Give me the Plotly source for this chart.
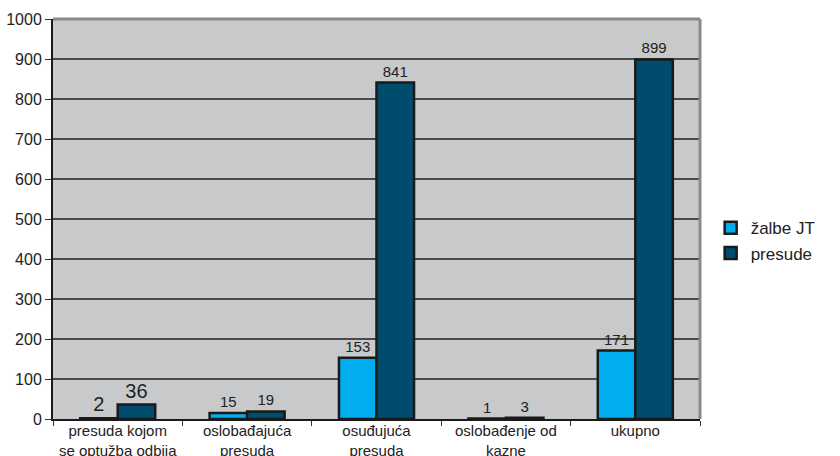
import plotly.graph_objects as go

categories = [
    "presuda kojom<br>se optužba odbija",
    "oslobađajuća<br>presuda",
    "osuđujuća<br>presuda",
    "oslobađenje od<br>kazne",
    "ukupno",
]
zalbe_jt = [2, 15, 153, 1, 171]
presude = [36, 19, 841, 3, 899]
y_ticks = [0, 100, 200, 300, 400, 500, 600, 700, 800, 900, 1000]

# first group's labels are printed larger
label_sizes = [20, 15, 15, 15, 15]

FONT = "Liberation Sans, Arial, sans-serif"

fig = go.Figure()
fig.add_trace(go.Bar(
    name="žalbe JT", x=categories, y=zalbe_jt,
    marker=dict(color="#00AEEF", line=dict(color="#1a1a1a", width=2.5)),
    text=[str(v) for v in zalbe_jt], textposition="outside",
    textfont=dict(size=label_sizes, color="#222222", family=FONT),
    cliponaxis=False,
))
fig.add_trace(go.Bar(
    name="presude", x=categories, y=presude,
    marker=dict(color="#004C6C", line=dict(color="#1a1a1a", width=2.5)),
    text=[str(v) for v in presude], textposition="outside",
    textfont=dict(size=label_sizes, color="#222222", family=FONT),
    cliponaxis=False,
))

fig.update_layout(
    width=840, height=456,
    margin=dict(l=53, r=140, t=19, b=37, autoexpand=False),
    paper_bgcolor="white",
    plot_bgcolor="#C8C9CB",
    barmode="group",
    bargap=0.42,
    bargroupgap=0.0,
    font=dict(family=FONT, size=16, color="#222222"),
    showlegend=True,
    legend=dict(
        xref="container", yref="container",
        x=0.846, y=0.472, xanchor="left", yanchor="middle",
        font=dict(size=17, color="#222222"),
        bgcolor="rgba(0,0,0,0)",
        itemwidth=30,
        tracegroupgap=2,
    ),
)

fig.update_xaxes(
    type="category",
    automargin=False,
    tickangle=0,
    tickson="boundaries",
    ticks="outside", ticklen=5, tickcolor="#333333", tickwidth=1,
    ticklabelstandoff=-3,
    showline=True, linecolor="#1a1a1a", linewidth=2,
    showgrid=False,
    tickfont=dict(size=15, color="#222222"),
)
fig.update_yaxes(
    range=[0, 1000],
    automargin=False,
    tickvals=y_ticks,
    ticks="outside", ticklen=6, tickcolor="#333333", tickwidth=1,
    showline=True, linecolor="#1a1a1a", linewidth=2,
    showgrid=True, gridcolor="#4a4a4a", gridwidth=1.5,
    zeroline=False,
    tickfont=dict(size=16, color="#222222"),
)

# gray frame on the top and right sides of the plot area
fig.add_shape(type="line", xref="paper", yref="paper", x0=0, x1=1, y0=1, y1=1,
              line=dict(color="#8a8a8a", width=3))
fig.add_shape(type="line", xref="paper", yref="paper", x0=1, x1=1, y0=0, y1=1,
              line=dict(color="#8a8a8a", width=3))

fig.write_html("out.html")
